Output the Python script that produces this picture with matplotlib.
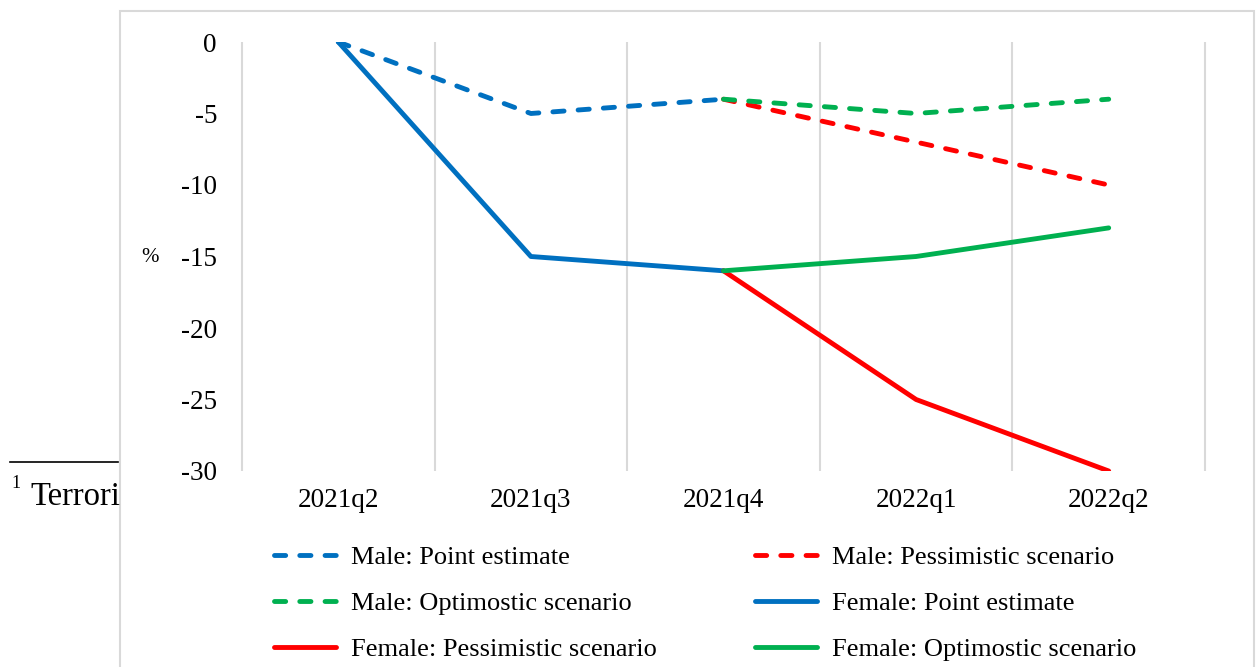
import matplotlib.pyplot as plt
from matplotlib.lines import Line2D
from matplotlib.patches import Rectangle
import numpy as np

plt.rcParams['font.family'] = ['Liberation Serif', 'DejaVu Serif']
plt.rcParams['axes.unicode_minus'] = False

quarters = ['2021q2', '2021q3', '2021q4', '2022q1', '2022q2']
male_point = [0, -5, -4]
male_pess = [-4, -7, -10]
male_opt = [-4, -5, -4]
female_point = [0, -15, -16]
female_pess = [-16, -25, -30]
female_opt = [-16, -15, -13]

blue = '#0070C0'
red = '#FF0000'
green = '#00B050'

fig = plt.figure(figsize=(12.59, 6.67), dpi=100)
ax = fig.add_axes([242/1259, 1-471/667, (1205-242)/1259, (471-42)/667])

x = np.arange(len(quarters))
lw = 3.5
dash = dict(linestyle=(0, (2.3, 2.9)), dash_capstyle='round')

# category separators
ax.vlines(np.arange(-0.5, len(quarters), 1), -30, 0, color='#D9D9D9',
          lw=1.5, clip_on=False, zorder=0)

ax.plot(x[:3], male_point, color=blue, lw=lw, **dash)
ax.plot(x[2:], male_pess, color=red, lw=lw, **dash)
ax.plot(x[2:], male_opt, color=green, lw=lw, **dash)
ax.plot(x[:3], female_point, color=blue, lw=lw, solid_capstyle='round')
ax.plot(x[2:], female_pess, color=red, lw=lw, solid_capstyle='round')
ax.plot(x[2:], female_opt, color=green, lw=lw, solid_capstyle='round')

ax.set_xlim(-0.5, len(quarters)-0.5)
ax.set_ylim(-30, 0)
ax.set_yticks(np.arange(-30, 1, 5))
ax.set_xticks(x)
ax.set_xticklabels(quarters)
ax.tick_params(which='both', length=0)
ax.tick_params(axis='y', pad=18, labelsize=19.5)
ax.tick_params(axis='x', pad=12, labelsize=19.5)
for s in ax.spines.values():
    s.set_visible(False)

fig.text(150/1259, 1-258/667, '%', fontsize=15, ha='center', va='center')

# outer chart frame
fig.patches.append(Rectangle((120/1259, -0.05), (1254-120)/1259, 1.05-11/667,
                             transform=fig.transFigure, fill=False,
                             edgecolor='#D9D9D9', lw=1.5))

# footnote fragment
fig.add_artist(Line2D([10/1259, 118/1259], [1-462/667, 1-462/667],
                      transform=fig.transFigure, color='black', lw=1.2))
fig.text(11/1259, 1-484/667, '1', fontsize=13, va='center')
fig.text(30/1259, 1-505/667, 'Terrori', fontsize=23.5, va='baseline')

def dh(c):
    return Line2D([], [], color=c, lw=lw, **dash)

def sh(c):
    return Line2D([], [], color=c, lw=lw, solid_capstyle='round')

handles = [dh(blue), dh(green), sh(red), dh(red), sh(blue), sh(green)]
labels = ['Male: Point estimate', 'Male: Optimostic scenario',
          'Female: Pessimistic scenario', 'Male: Pessimistic scenario',
          'Female: Point estimate', 'Female: Optimostic scenario']
fig.legend(handles, labels, ncol=2, loc='upper left',
           bbox_to_anchor=(274/1259, 1-546/667), frameon=False,
           fontsize=19, handlelength=2.35, handletextpad=0.55,
           columnspacing=3.75, labelspacing=0.85, borderpad=0, borderaxespad=0)

fig.savefig('out.png', dpi=100)
